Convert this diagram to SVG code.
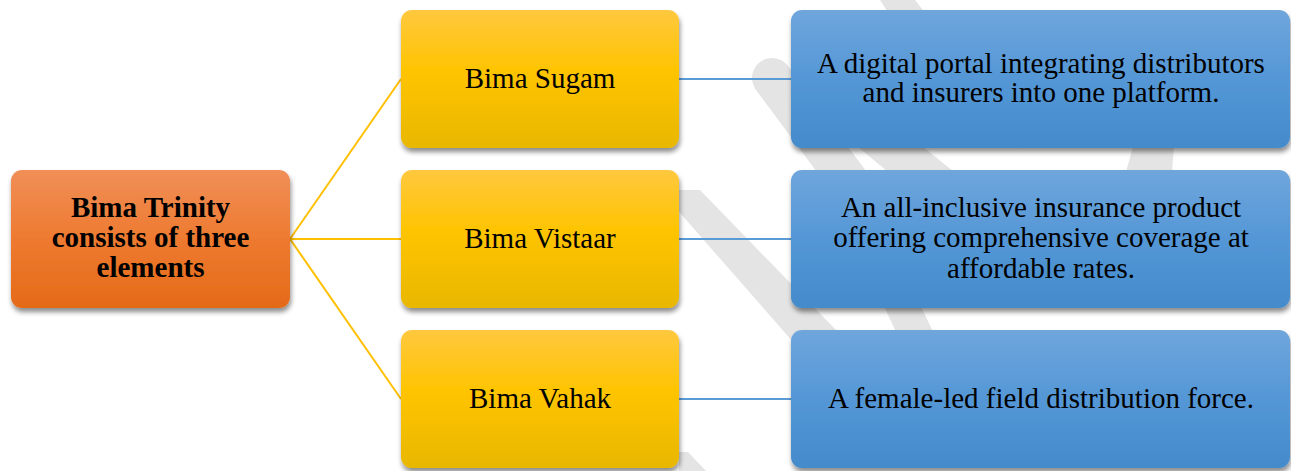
<svg xmlns="http://www.w3.org/2000/svg" width="1291" height="471" viewBox="0 0 1291 471" font-family="'Liberation Serif', 'Times New Roman', serif">
<defs>
<linearGradient id="gO" x1="0" y1="0" x2="0" y2="1"><stop offset="0" stop-color="#F08F58"/><stop offset="0.5" stop-color="#EE7A30"/><stop offset="1" stop-color="#E46A18"/></linearGradient>
<linearGradient id="gY" x1="0" y1="0" x2="0" y2="1"><stop offset="0" stop-color="#FFC83F"/><stop offset="0.45" stop-color="#FFC400"/><stop offset="1" stop-color="#E8B700"/></linearGradient>
<linearGradient id="gB" x1="0" y1="0" x2="0" y2="1"><stop offset="0" stop-color="#6FA6DC"/><stop offset="0.5" stop-color="#5497D6"/><stop offset="1" stop-color="#448BCB"/></linearGradient>
<filter id="sh" x="-10%" y="-10%" width="125%" height="130%"><feDropShadow dx="1" dy="4" stdDeviation="2.5" flood-color="#000" flood-opacity="0.45"/></filter>
</defs>
<style>
.o{fill:url(#gO);filter:url(#sh)}
.y{fill:url(#gY);filter:url(#sh)}
.b{fill:url(#gB);filter:url(#sh)}
text{font-family:'Liberation Serif','Times New Roman',serif;font-size:29px;fill:#000;text-anchor:middle}
.bold{font-weight:bold}
.wm{fill:#E4E4E4}
.cy{stroke:#FFC000;stroke-width:2;fill:none}
.cb{stroke:#5B9BD5;stroke-width:2;fill:none}
</style>
<rect width="1291" height="471" fill="#fff"/>
<g id="watermark">
<line x1="772" y1="78" x2="870" y2="210" stroke="#E4E4E4" stroke-width="40" stroke-linecap="round"/>
<polygon class="wm" points="857,146 922,146 954,172 888,172"/>
<polygon class="wm" points="880,0 915,0 926,14 889,14"/>
<polygon class="wm" points="880,298 917,298 934,334 897,334"/>
<path class="wm" d="M1133,146 L1174,146 L1172,172 L1126,172 Q1130,158 1133,146 Z"/>
<polygon class="wm" points="660,190 700,190 836,330 800,350"/>
<polygon class="wm" points="679,452 688,452 706,471 679,471"/>
</g>
<g id="connectors">
<path class="cy" d="M290,239 L401,79"/>
<path class="cy" d="M290,239 L401,239"/>
<path class="cy" d="M290,239 L401,399"/>
<path class="cb" d="M679,79 L791,79"/>
<path class="cb" d="M679,239 L791,239"/>
<path class="cb" d="M679,399 L791,399"/>
</g>
<g id="root">
<rect class="o" x="11" y="170" width="279" height="138" rx="11"/>
<text class="bold" x="150.5" y="217">Bima Trinity</text>
<text class="bold" x="150.5" y="247">consists of three</text>
<text class="bold" x="150.5" y="277">elements</text>
</g>
<g id="sugam">
<rect class="y" x="401" y="10" width="278" height="138" rx="11"/>
<text x="540" y="88">Bima Sugam</text>
</g>
<g id="vistaar">
<rect class="y" x="401" y="170" width="278" height="138" rx="11"/>
<text x="540" y="248">Bima Vistaar</text>
</g>
<g id="vahak">
<rect class="y" x="401" y="330" width="278" height="138" rx="11"/>
<text x="540" y="408">Bima Vahak</text>
</g>
<g id="sugam-desc">
<rect class="b" x="791" y="10" width="499" height="138" rx="11"/>
<text x="1041" y="73">A digital portal integrating distributors</text>
<text x="1041" y="102">and insurers into one platform.</text>
</g>
<g id="vistaar-desc">
<rect class="b" x="791" y="170" width="499" height="138" rx="11"/>
<text x="1041" y="217">An all-inclusive insurance product</text>
<text x="1041" y="247">offering comprehensive coverage at</text>
<text x="1041" y="278">affordable rates.</text>
</g>
<g id="vahak-desc">
<rect class="b" x="791" y="330" width="499" height="138" rx="11"/>
<text x="1041" y="408">A female-led field distribution force.</text>
</g>
</svg>
